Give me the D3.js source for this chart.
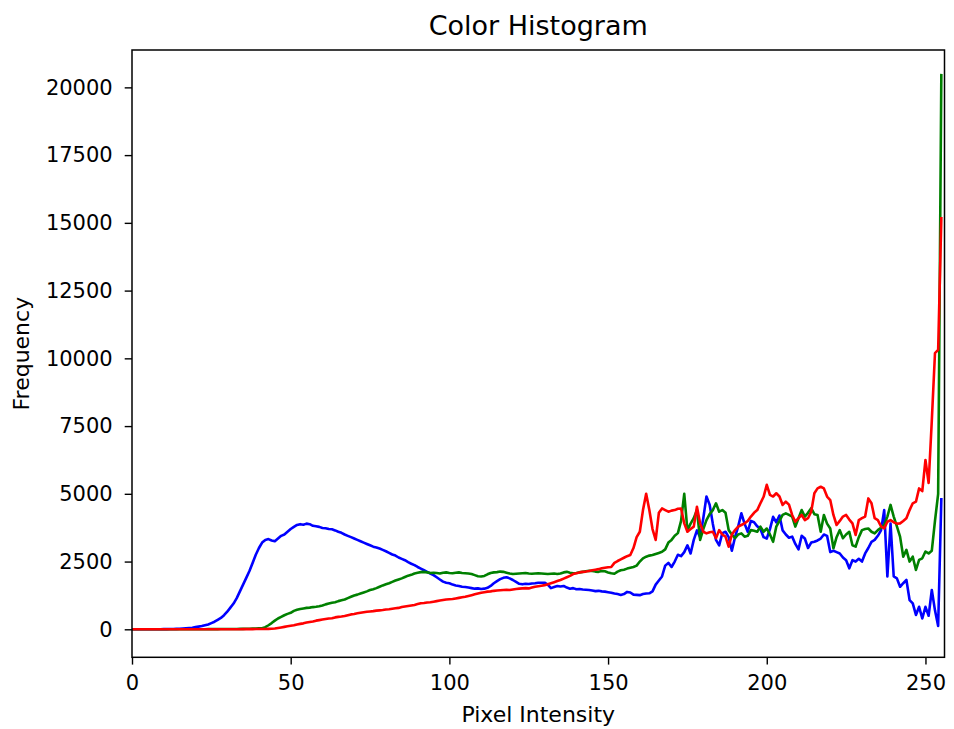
<!DOCTYPE html>
<html>
<head>
<meta charset="utf-8">
<script src="https://cdn.jsdelivr.net/npm/d3@7"></script>
<style>
  body { margin: 0; background: #fff; }
  svg text { font-family: "DejaVu Sans", sans-serif; fill: #000; }
  .tick text { font-size: 21px; }
  .title { font-size: 27px; }
  .axisLabel { font-size: 22px; }
</style>
</head>
<body>
<div id="chart"></div>
<script>
// histogram counts per channel, one value for each intensity 0..255
const blueCounts = [
  0,0,0,0,0,0,0,0,0,0,5,5,10,10,15,20,
  30,40,50,60,80,100,120,150,180,230,280,350,420,520,650,800,
  950,1150,1400,1650,1900,2150,2450,2750,3000,3200,3300,3330,3280,3250,3350,3450,
  3500,3600,3700,3780,3850,3880,3860,3900,3880,3820,3800,3780,3740,3730,3700,3690,
  3650,3600,3560,3500,3450,3400,3350,3300,3250,3200,3150,3100,3050,3020,2980,2930,
  2880,2820,2760,2720,2650,2600,2550,2480,2420,2370,2300,2240,2180,2120,2060,2000,
  1920,1840,1760,1720,1700,1650,1620,1600,1570,1560,1540,1520,1500,1510,1490,1500,
  1530,1600,1700,1780,1850,1900,1920,1880,1820,1750,1680,1660,1680,1670,1690,1700,
  1720,1720,1720,1650,1520,1560,1600,1580,1600,1540,1500,1520,1480,1490,1470,1460,
  1450,1430,1410,1420,1400,1390,1370,1350,1320,1300,1270,1300,1380,1360,1280,1270,
  1260,1300,1320,1330,1400,1650,1800,1950,2350,2450,2300,2500,2750,2700,2850,3100,
  2800,3300,3650,3400,4100,4900,4600,3900,3300,3100,3550,3600,3400,2900,3400,3800,
  4280,3900,3600,4000,3950,3800,3700,3400,3350,3700,4150,3950,4200,3650,3500,3380,
  3420,3150,2950,3450,3350,3000,3200,3230,3280,3350,3500,3450,2850,2900,2850,2800,
  2650,2550,2250,2550,2500,2600,2500,2800,3000,3230,3300,3450,3650,4400,1950,3900,
  1950,1880,1570,1700,1820,1080,960,530,830,400,830,500,1450,700,120,4800
];

const greenCounts = [
  0,0,0,0,0,0,0,0,0,0,0,0,0,0,0,0,
  0,0,0,0,0,0,0,0,5,5,5,5,10,10,10,10,
  10,10,15,15,20,20,25,30,35,40,80,150,230,320,400,460,
  520,570,610,680,720,750,770,790,800,820,830,850,880,920,950,980,
  1000,1040,1070,1100,1150,1200,1250,1280,1320,1360,1400,1450,1480,1520,1570,1620,
  1660,1700,1750,1800,1840,1880,1930,1980,2010,2060,2090,2110,2120,2100,2080,2090,
  2080,2060,2090,2100,2080,2070,2090,2100,2080,2070,2060,2040,2000,1960,1950,1970,
  2030,2080,2100,2110,2130,2120,2090,2060,2040,2050,2060,2070,2080,2060,2050,2060,
  2070,2060,2050,2040,2050,2060,2040,2060,2100,2120,2090,2070,2080,2100,2120,2140,
  2160,2150,2130,2120,2150,2140,2100,2070,2050,2130,2180,2200,2240,2270,2300,2350,
  2500,2620,2680,2720,2740,2780,2820,2860,2950,3200,3300,3450,3550,4000,5000,3650,
  3900,4100,4400,3300,3700,4030,4250,4400,4650,4340,4400,4300,3660,3500,3360,3500,
  3540,3420,3450,3660,3640,3600,3790,3600,3720,3500,3230,3790,4000,4220,4280,4220,
  4160,3790,4100,4400,4160,4300,4470,4250,4220,3600,4220,3900,3720,2990,3400,3660,
  3360,3500,3600,3100,3050,3400,3660,3700,3720,3600,3540,3660,3750,3850,4160,4590,
  4160,3800,3420,2680,2930,2500,2680,2190,2560,2620,2870,2800,2900,4000,5000,20450
];

const redCounts = [
  0,0,0,0,0,0,0,0,0,0,0,0,0,0,0,0,
  0,0,0,0,0,0,0,0,0,0,0,0,0,0,0,0,
  0,0,0,5,5,5,5,10,10,10,10,15,20,30,50,70,
  90,110,130,150,180,200,220,250,270,290,320,340,360,380,400,410,
  440,460,470,490,520,550,565,590,610,630,650,660,670,690,700,710,
  730,740,760,775,790,820,840,860,880,900,930,960,970,990,1000,1020,
  1040,1060,1080,1100,1110,1120,1140,1160,1180,1200,1230,1260,1290,1320,1350,1370,
  1390,1400,1420,1430,1440,1450,1460,1450,1470,1490,1500,1510,1520,1510,1540,1570,
  1590,1610,1630,1660,1700,1740,1780,1820,1870,1920,1970,2040,2070,2100,2120,2130,
  2150,2180,2200,2220,2250,2270,2290,2300,2450,2520,2580,2640,2700,2740,3000,3400,
  3600,4400,5000,4400,3700,3300,4300,4460,4400,4340,4380,4400,4450,4460,3910,3600,
  3700,3790,4520,3910,3600,3540,3580,3600,3360,3660,3500,3420,3050,3500,3660,3790,
  3850,3910,4000,4160,4300,4400,4650,4890,5330,4960,4900,5020,4900,4590,4710,4600,
  4220,3970,4100,4220,4030,4100,4340,5020,5200,5260,5200,4900,4770,4220,3850,4000,
  4160,4220,4050,3910,3480,4030,4100,4160,4830,4650,4100,4030,3800,3720,3970,4030,
  3950,3900,3910,4000,4100,4400,4650,4710,5200,5100,6250,5400,7700,10190,10310,15170
];

const xTicks = [0, 50, 100, 150, 200, 250];
const yTicks = [0, 2500, 5000, 7500, 10000, 12500, 15000, 17500, 20000];

// plot order matters: blue first, red ends up on top
const channels = [
  {name: "b", color: "#0000ff", counts: blueCounts},
  {name: "g", color: "#008000", counts: greenCounts},
  {name: "r", color: "#ff0000", counts: redCounts}
];

const width = 954, height = 729;
const margin = {top: 50, right: 9.5, bottom: 71.7, left: 132};
const w = width - margin.left - margin.right;
const h = height - margin.top - margin.bottom;

const svg = d3.select("#chart").append("svg")
    .attr("width", width)
    .attr("height", height);

const g = svg.append("g")
    .attr("transform", `translate(${margin.left},${margin.top})`);

let xScale = d3.scaleLinear().domain([0, 256]).range([0, w]);
let yScale = d3.scaleLinear().domain([-1033, 21379]).range([h, 0]);

// clip so the lines never spill over the frame
g.append("clipPath").attr("id", "plotArea")
  .append("rect").attr("width", w).attr("height", h);

let line = d3.line()
    .x((d, i) => xScale(i))
    .y(d => yScale(d));

g.append("g").attr("clip-path", "url(#plotArea)")
  .selectAll("path")
  .data(channels)
  .enter().append("path")
    .attr("d", d => line(d.counts))
    .attr("fill", "none")
    .attr("stroke", d => d.color)
    .attr("stroke-width", 2.6)
    .attr("stroke-linejoin", "round")
    .attr("stroke-linecap", "square");

// axes
let xAxis = g.append("g")
    .attr("transform", `translate(0,${h})`)
    .call(d3.axisBottom(xScale).tickValues(xTicks).tickSize(7.3).tickPadding(5));
let yAxis = g.append("g")
    .call(d3.axisLeft(yScale).tickValues(yTicks).tickSize(7.3).tickPadding(12).tickFormat(d3.format("d")));

[xAxis, yAxis].forEach(a => {
    a.select(".domain").remove();
    a.selectAll(".tick line").attr("stroke", "#000").attr("stroke-width", 1.4);
});
xAxis.selectAll(".tick text").attr("dy", "0.95em");

// frame
g.append("rect")
    .attr("width", w).attr("height", h)
    .attr("fill", "none")
    .attr("stroke", "#000")
    .attr("stroke-width", 1.5);

svg.append("text")
    .attr("class", "title")
    .attr("x", margin.left + w / 2)
    .attr("y", 35)
    .attr("text-anchor", "middle")
    .text("Color Histogram");

svg.append("text")
    .attr("class", "axisLabel")
    .attr("x", margin.left + w / 2)
    .attr("y", 722)
    .attr("text-anchor", "middle")
    .text("Pixel Intensity");

svg.append("text")
    .attr("class", "axisLabel")
    .attr("transform", `translate(29,${margin.top + h / 2}) rotate(-90)`)
    .attr("text-anchor", "middle")
    .text("Frequency");
</script>
</body>
</html>
